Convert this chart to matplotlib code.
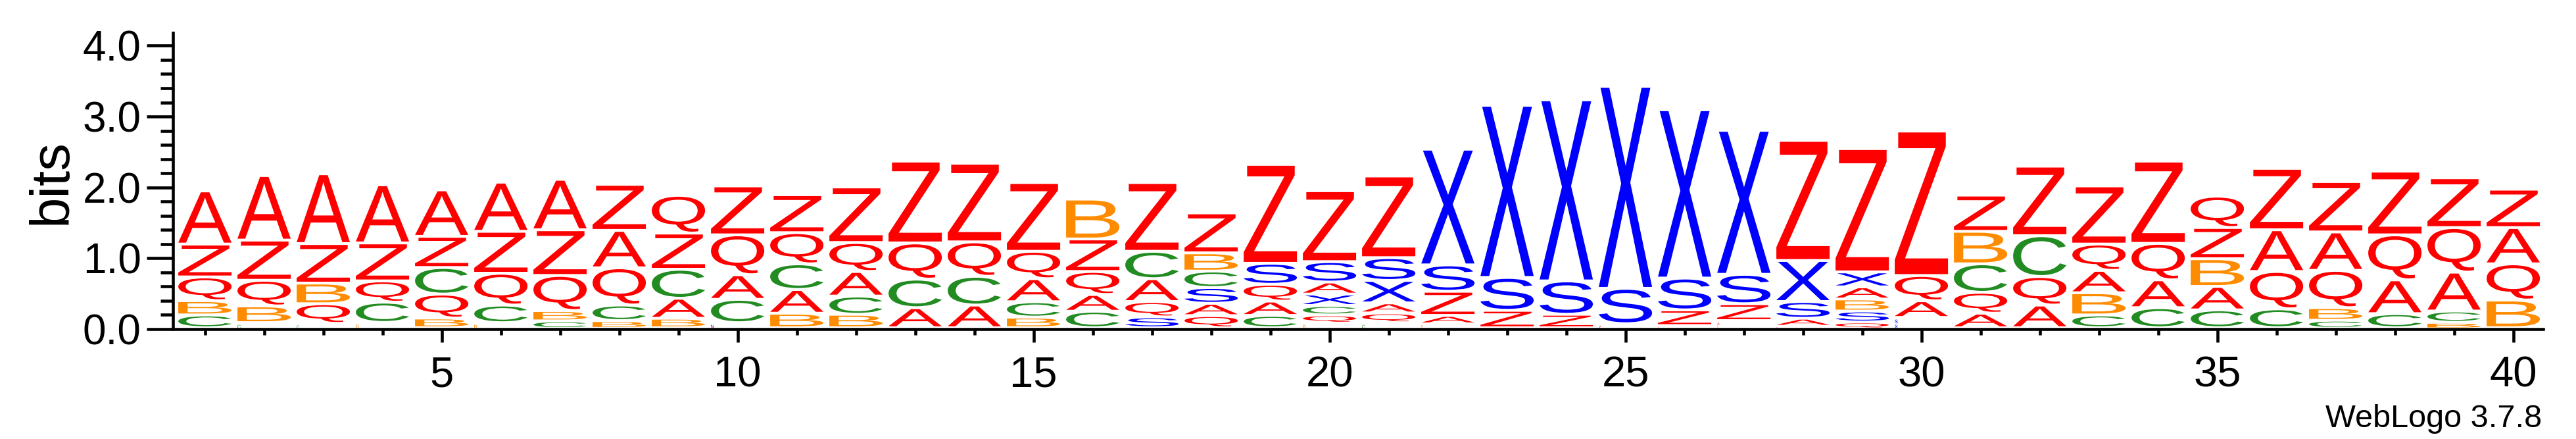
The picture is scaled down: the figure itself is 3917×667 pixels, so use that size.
import numpy as np
import matplotlib
matplotlib.use("Agg")
import matplotlib.pyplot as plt
from matplotlib.textpath import TextPath
from matplotlib.patches import PathPatch
from matplotlib.font_manager import FontProperties
from matplotlib.transforms import Affine2D
from matplotlib.ticker import FixedLocator

# ---------------- data (bits per letter at each position 1..40) ----------------
positions = list(range(1, 41))

A = [0.750, 0.911, 0.985, 0.821, 0.656, 0.694, 0.712, 0.528, 0.282, 0.347,
     0.335, 0.347, 0.282, 0.319, 0.325, 0.236, 0.322, 0.174, 0.202, 0.170,
     0.142, 0.113, 0.000, 0.000, 0.000, 0.000, 0.050, 0.103, 0.171, 0.236,
     0.204, 0.319, 0.316, 0.393, 0.331, 0.589, 0.542, 0.477, 0.549, 0.512]
B = [0.201, 0.236, 0.291, 0.074, 0.136, 0.070, 0.146, 0.100, 0.133, 0.000,
     0.204, 0.189, 0.000, 0.000, 0.149, 0.563, 0.000, 0.257, 0.000, 0.070,
     0.000, 0.040, 0.000, 0.000, 0.000, 0.000, 0.030, 0.000, 0.170, 0.000,
     0.459, 0.000, 0.313, 0.000, 0.391, 0.000, 0.177, 0.000, 0.076, 0.390]
C = [0.180, 0.071, 0.060, 0.286, 0.375, 0.249, 0.096, 0.220, 0.409, 0.330,
     0.362, 0.257, 0.403, 0.406, 0.217, 0.232, 0.387, 0.232, 0.173, 0.133,
     0.070, 0.000, 0.000, 0.000, 0.000, 0.000, 0.000, 0.000, 0.000, 0.000,
     0.402, 0.576, 0.180, 0.282, 0.251, 0.266, 0.105, 0.198, 0.159, 0.000]
N = [0.000] * 9 + [0.070] + [0.000] * 30
Q = [0.335, 0.362, 0.278, 0.300, 0.338, 0.449, 0.495, 0.525, 0.533, 0.563,
     0.440, 0.409, 0.511, 0.486, 0.387, 0.325, 0.217, 0.170, 0.238, 0.110,
     0.138, 0.020, 0.000, 0.000, 0.000, 0.030, 0.020, 0.030, 0.080, 0.356,
     0.295, 0.403, 0.371, 0.515, 0.442, 0.527, 0.527, 0.635, 0.629, 0.511]
S = [0.000] * 16 + [0.152, 0.223, 0.295, 0.288, 0.321, 0.372, 0.464, 0.471,
                    0.499, 0.449, 0.415, 0.236, 0.155, 0.074] + [0.000] * 10
X = [0.000] * 19 + [0.161, 0.317, 1.633, 2.429, 2.556, 2.850, 2.376, 2.032,
                    0.579, 0.211, 0.070] + [0.000] * 10
Z = [0.464, 0.567, 0.558, 0.536, 0.440, 0.592, 0.645, 0.650, 0.511, 0.691,
     0.536, 0.784, 1.155, 1.109, 0.970, 0.459, 0.970, 0.564, 1.397, 1.001,
     1.153, 0.341, 0.245, 0.189, 0.056, 0.221, 0.238, 1.695, 1.741, 2.039,
     0.511, 0.982, 0.821, 1.161, 0.441, 0.867, 0.712, 0.899, 0.703, 0.542]

letters = ["A", "B", "C", "N", "Q", "S", "X", "Z"]
letter_colors = {"A": "#FF0000", "Q": "#FF0000", "Z": "#FF0000",
                 "B": "#FF8C00", "C": "#228B22",
                 "S": "#0000FF", "X": "#0000FF", "N": "#800080"}
heights = {"A": A, "B": B, "C": C, "N": N, "Q": Q, "S": S, "X": X, "Z": Z}

xtick_values = [5, 10, 15, 20, 25, 30, 35, 40]
xtick_labels = ["5", "10", "15", "20", "25", "30", "35", "40"]
ytick_values = [0, 1, 2, 3, 4]
ytick_labels = ["0.0", "1.0", "2.0", "3.0", "4.0"]

# ---------------- figure ----------------
plt.rcParams["font.family"] = ["Liberation Sans", "DejaVu Sans"]
W, H = 3917, 667
fig = plt.figure(figsize=(W / 100, H / 100), dpi=100)
ax_left, ax_right = 266.6, 3866.6
ax_bottom_px, ax_top_px = 500.0, 50.0
ax = fig.add_axes([ax_left / W, (H - ax_bottom_px) / H,
                   (ax_right - ax_left) / W, (ax_bottom_px - ax_top_px) / H])
YMAX = 4.18
ax.set_xlim(0.5, 40.5)
ax.set_ylim(0, YMAX)

PX_BIT = (ax_bottom_px - ax_top_px) / YMAX
PX_POS = (ax_right - ax_left) / 40.0

fp = FontProperties(family="Liberation Sans")
glyph_paths = {L: TextPath((0, 0), L, size=1, prop=fp) for L in letters}
TINY = 0.075


def draw_letter(L, x, y, h):
    path = glyph_paths[L]
    ext = path.get_extents()
    if h < TINY:
        gh = h * 0.7
        gw = gh * PX_BIT * (ext.width / ext.height) / PX_POS
        x0, y0 = x - 0.45, y + 0.15 * h
    else:
        g = min(0.04, 0.3 * h)
        gh = h - g
        gw = 0.9
        x0, y0 = x - 0.45, y + g
    tr = (Affine2D().translate(-ext.x0, -ext.y0)
          .scale(gw / ext.width, gh / ext.height)
          .translate(x0, y0))
    ax.add_patch(PathPatch(tr.transform_path(path), facecolor=letter_colors[L],
                           edgecolor="none", lw=0))


for i, pos in enumerate(positions):
    stack = [(heights[L][i], L) for L in letters if heights[L][i] > 0]
    stack.sort(key=lambda t: t[0])
    ybase = 0.0
    for h, L in stack:
        draw_letter(L, pos, ybase, h)
        ybase += h

# ---------------- axes styling ----------------
for s in ["top", "right"]:
    ax.spines[s].set_visible(False)
for s in ["left", "bottom"]:
    ax.spines[s].set_linewidth(3.3)
ax.spines["left"].set_position(("outward", 2.6))

ax.xaxis.set_major_locator(FixedLocator(xtick_values))
ax.set_xticklabels(xtick_labels)
ax.xaxis.set_minor_locator(FixedLocator(positions))
ax.yaxis.set_major_locator(FixedLocator(ytick_values))
ax.set_yticklabels(ytick_labels)
ax.yaxis.set_minor_locator(FixedLocator(list(np.round(np.arange(0, 4.01, 0.2), 2))))

ax.tick_params(axis="x", which="major", length=14.4, width=3.3, pad=14.4,
               labelsize=47, direction="out")
ax.tick_params(axis="x", which="minor", length=6.5, width=3.3, direction="out")
ax.tick_params(axis="y", which="major", length=29, width=3.3, pad=5.8,
               labelsize=46, direction="out")
ax.tick_params(axis="y", which="minor", length=14, width=3.3, direction="out")

fig.text(79 / W, (H - 276) / H, "bits", rotation=90, ha="center", va="center",
         fontsize=60)
fig.text(3865 / W, (H - 649) / H, "WebLogo 3.7.8", ha="right", va="baseline",
         fontsize=35)

fig.savefig("out.png", dpi=100)
